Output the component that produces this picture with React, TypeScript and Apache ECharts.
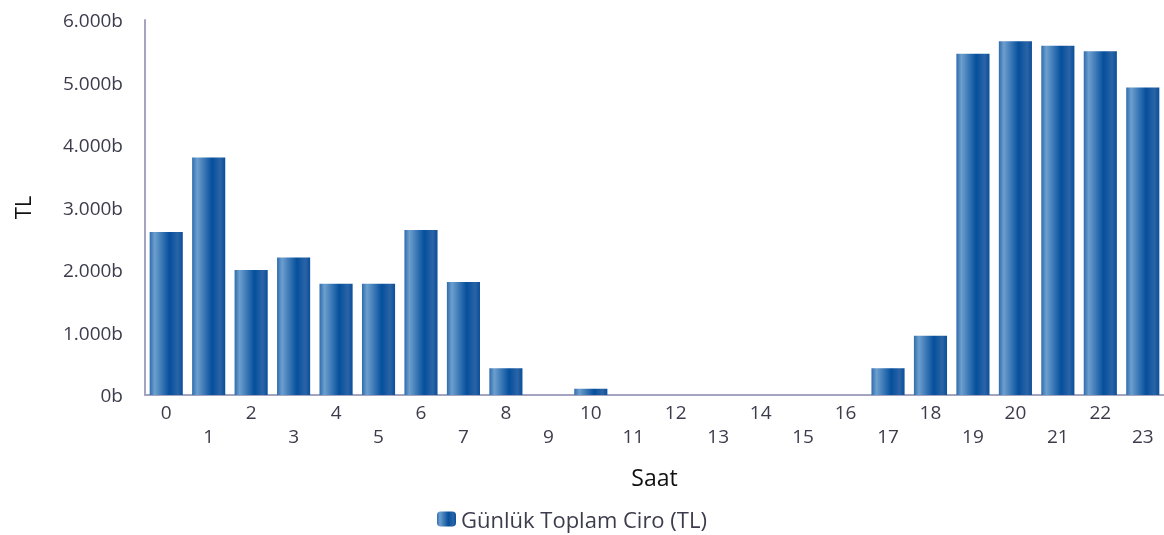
import React, { useEffect, useRef } from "react";
import * as echarts from "echarts";

const hours = Array.from({ length: 24 }, (_, i) => String(i));
const revenue = [2.61, 3.8, 2.0, 2.2, 1.78, 1.78, 2.64, 1.81, 0.43, 0, 0.1, 0, 0, 0, 0, 0, 0, 0.43, 0.95, 5.46, 5.66, 5.59, 5.5, 4.92];
const yTicks = { min: 0, max: 6, interval: 1 };
const seriesName = "Günlük Toplam Ciro (TL)";

export default function App() {
  const ref = useRef<HTMLDivElement>(null);
  useEffect(() => {
    if (!ref.current) return;
    const chart = echarts.init(ref.current, undefined, { renderer: "svg" });
    const grad = new echarts.graphic.LinearGradient(0, 0, 1, 0, [
      { offset: 0, color: "#2e6cad" },
      { offset: 0.15, color: "#6d9fce" },
      { offset: 0.6, color: "#054f9c" },
      { offset: 0.85, color: "#2b64a6" },
      { offset: 1, color: "#0a4e9a" },
    ]);
    const font = "'Open Sans', sans-serif";
    chart.setOption({
      animation: false,
      textStyle: { fontFamily: font },
      grid: { left: 145, right: 0, top: 20, bottom: 140, containLabel: false },
      legend: {
        top: 508,
        left: 437,
        padding: 0,
        itemWidth: 19,
        itemHeight: 15,
        itemGap: 5,
        textStyle: { color: "#3c3c4c", fontSize: 22, fontFamily: font },
        data: [seriesName],
      },
      xAxis: {
        type: "category",
        data: hours,
        name: "Saat",
        nameLocation: "middle",
        nameGap: 70,
        nameTextStyle: { color: "#111", fontSize: 23, fontFamily: font },
        axisLine: { lineStyle: { color: "#a4a4c0", width: 2 } },
        axisTick: { show: false },
        axisLabel: {
          interval: 0,
          color: "#3c3c4c",
          fontSize: 19,
          lineHeight: 24,
          margin: 5,
          formatter: (v: string, i: number) => (i % 2 ? "\n" + v : v),
        },
      },
      yAxis: {
        type: "value",
        min: yTicks.min,
        max: yTicks.max,
        interval: yTicks.interval,
        name: "TL",
        nameLocation: "middle",
        nameGap: 112,
        nameTextStyle: { color: "#111", fontSize: 22, fontFamily: font },
        axisLine: { show: true, lineStyle: { color: "#a4a4c0", width: 2 } },
        axisTick: { show: false },
        splitLine: { show: false },
        axisLabel: {
          color: "#3c3c4c",
          fontSize: 19,
          margin: 22,
          formatter: (v: number) => (v === 0 ? "0b" : v.toFixed(3) + "b"),
        },
      },
      series: [
        {
          name: seriesName,
          type: "bar",
          data: revenue,
          barCategoryGap: "22%",
          itemStyle: { color: grad },
        },
      ],
    });
    return () => chart.dispose();
  }, []);
  return <div ref={ref} style={{ position: "fixed", left: 0, top: 0, width: 1164, height: 535 }} />;
}
